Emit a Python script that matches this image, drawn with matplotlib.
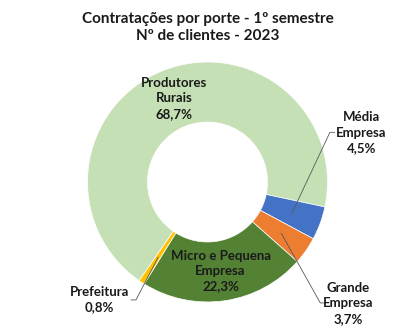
import matplotlib.pyplot as plt
import numpy as np

plt.rcParams['font.family'] = ['Lato', 'DejaVu Sans']

# dados
categorias = ['Produtores\nRurais', 'Média\nEmpresa', 'Grande\nEmpresa', 'Micro e Pequena\nEmpresa', 'Prefeitura']
percentuais = [68.7, 4.5, 3.7, 22.3, 0.8]
cores = ['#C5E0B4', '#4472C4', '#ED7D31', '#548235', '#FFC000']

# rótulos fora da rosca: posição do texto e cotovelo do traço
fora = {
    1: ((1.28, 0.41), (1.02, 0.414)),
    2: ((1.17, -1.01), (0.94, -1.008)),
    4: ((-0.90, -0.98), (-0.596, -0.983)),
}

fig = plt.figure(figsize=(4.18, 3.28), dpi=100)
ax = fig.add_axes([0, 0, 1, 1])

wedges, _ = ax.pie(percentuais, colors=cores, startangle=235.3, counterclock=False,
                   radius=1, wedgeprops=dict(width=0.5, edgecolor='white', linewidth=0.5))

for i, w in enumerate(wedges):
    meio = np.deg2rad((w.theta1 + w.theta2) / 2)
    px, py = 0.75 * np.cos(meio), 0.75 * np.sin(meio)
    txt = categorias[i] + '\n' + ('%.1f%%' % percentuais[i]).replace('.', ',')
    if i in fora:
        (tx, ty), (sx, sy) = fora[i]
        lado = 1 if tx > 0 else -1
        ax.plot([px, sx, sx + lado * 0.04], [py, sy, sy], color='#595959', lw=0.6)
        ax.text(tx, ty, txt, ha='center', va='center', fontsize=9.5, fontweight='bold',
                color='#1a1a1a', linespacing=1.35)
    else:
        ax.text(px, py, txt, ha='center', va='center', fontsize=9.5, fontweight='bold',
                color='#1a1a1a', linespacing=1.35)

ax.set_xlim(-1.729, 1.754)
ax.set_ylim(-1.217, 1.517)
ax.set_aspect('auto')
ax.axis('off')

fig.text(0.497, 0.917, 'Contratações por porte - 1º semestre\nNº de clientes - 2023',
         ha='center', va='center', fontsize=11, fontweight='bold', color='#1a1a1a', linespacing=1.3)

plt.savefig('out.png', dpi=100)
